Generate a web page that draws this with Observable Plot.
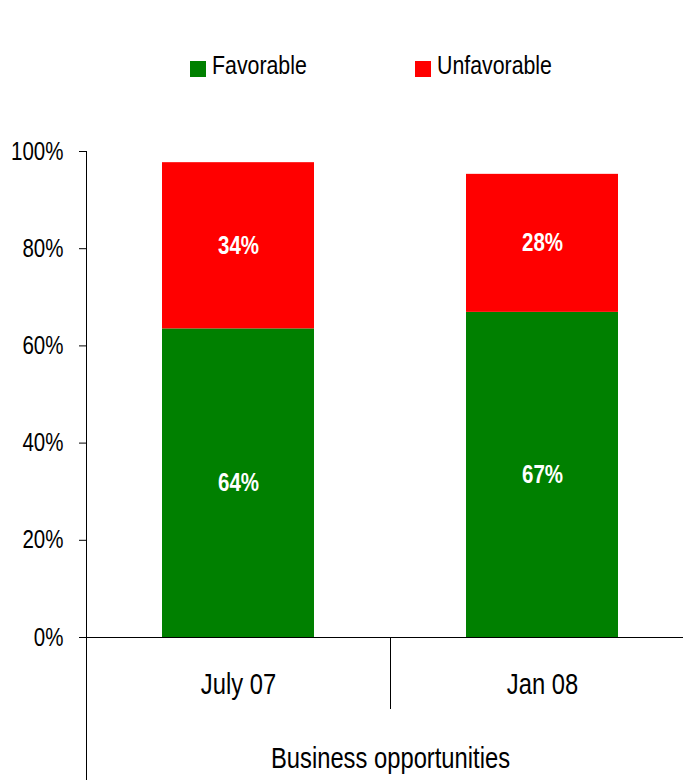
<!DOCTYPE html>
<html>
<head>
<meta charset="utf-8">
<script src="https://cdn.jsdelivr.net/npm/d3@7"></script>
<script src="https://cdn.jsdelivr.net/npm/@observablehq/plot@0.6"></script>
<style>
  body { margin: 0; background: #fff; font-family: "Liberation Sans", Arial, sans-serif; color: #000; }
  #legend { position: relative; width: 683px; height: 100px; }
  .sw { position: absolute; width: 16px; height: 16px; top: 61px; }
  .lt { position: absolute; top: 52px; font-size: 26px; line-height: 26px; white-space: nowrap;
        transform: scaleX(0.82); transform-origin: 0 50%; }
  #chart svg { display: block; }
</style>
</head>
<body>
<div id="legend"></div>
<div id="chart"></div>
<script>
const periods = ["July 07", "Jan 08"];
const seriesNames = ["Favorable", "Unfavorable"];
const favorable = [63.5, 66.9];
const unfavorable = [34.2, 28.4];
const yTicks = [0, 20, 40, 60, 80, 100];
const axisTitle = "Business opportunities";
const colors = ["#008000", "#ff0000"];

const seriesValues = [favorable, unfavorable];
const data = periods.flatMap((p, i) =>
  seriesNames.map((s, j) => ({period: p, series: s, value: seriesValues[j][i]}))
);

// Legend (HTML, above the SVG)
const legendX = [190, 415];
const legend = document.getElementById("legend");
seriesNames.forEach((s, j) => {
  const sw = document.createElement("div");
  sw.className = "sw";
  sw.style.left = legendX[j] + "px";
  sw.style.background = colors[j];
  legend.appendChild(sw);
  const t = document.createElement("div");
  t.className = "lt";
  t.style.left = (legendX[j] + 22) + "px";
  t.textContent = s;
  legend.appendChild(t);
});

const H = 680;
const chart = Plot.plot({
  width: 683,
  height: H,
  marginTop: 51,
  marginBottom: 143,
  marginLeft: 86,
  marginRight: -11,
  style: {fontFamily: "'Liberation Sans', Arial, sans-serif", color: "#000", background: "#fff"},
  x: {domain: periods, paddingInner: 0.5, paddingOuter: 0.25, axis: null, label: null},
  y: {domain: [0, 100], axis: null, label: null},
  color: {domain: seriesNames, range: colors},
  marks: [
    Plot.barY(data, {x: "period", y: "value", fill: "series"}),
    Plot.text(data, Plot.stackY({
      x: "period", y: "value",
      text: d => Math.round(d.value) + "%",
      fill: "white", fontWeight: "bold", fontSize: 25
    })),
    Plot.ruleY([0], {stroke: "#000"}),
    Plot.axisY({ticks: yTicks, tickFormat: d => d + "%", tickSize: 7, tickPadding: 16, fontSize: 25, stroke: "#000", label: null}),
    Plot.axisX({tickSize: 0, tickPadding: 36, fontSize: 29, label: null}),
    Plot.text([axisTitle], {text: d => d, frameAnchor: "bottom", lineAnchor: "bottom", dy: 130.5, fontSize: 29})
  ]
});
document.getElementById("chart").appendChild(chart);

// Narrow the glyphs horizontally (the reference uses a condensed face) around each text's anchor
d3.select(chart).selectAll("text").each(function () {
  const xAttr = this.getAttribute("x");
  const x = xAttr && !/em$/.test(xAttr) ? +xAttr : 0;
  if (x) this.removeAttribute("x");
  const tr = this.getAttribute("transform") || "";
  this.setAttribute("transform", `${tr} translate(${x},0) scale(0.82,1)`.trim());
});

// Category-axis separator lines drawn from the plot's own scales
const xs = chart.scale("x");
const ys = chart.scale("y");
const svg = d3.select(chart);
const axisX0 = xs.range[0] + 0.5;
svg.append("line")
  .attr("x1", axisX0).attr("x2", axisX0)
  .attr("y1", ys.apply(100)).attr("y2", H)
  .attr("stroke", "#000");
const boundary = Math.round((xs.apply(periods[0]) + xs.bandwidth + xs.apply(periods[1])) / 2) + 0.5;
svg.append("line")
  .attr("x1", boundary).attr("x2", boundary)
  .attr("y1", ys.apply(0)).attr("y2", ys.apply(0) + 72)
  .attr("stroke", "#000");
</script>
</body>
</html>
